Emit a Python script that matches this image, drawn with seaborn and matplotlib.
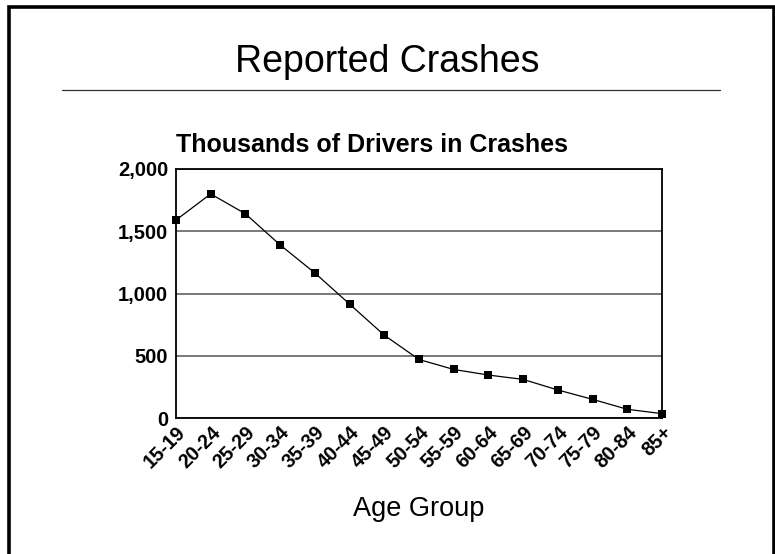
import pandas as pd
import numpy as np

from matplotlib import pyplot as plt
from matplotlib.patches import Rectangle
from matplotlib.lines import Line2D
from matplotlib.ticker import StrMethodFormatter
import seaborn as sns

age_groups = ['15-19', '20-24', '25-29', '30-34', '35-39', '40-44', '45-49',
              '50-54', '55-59', '60-64', '65-69', '70-74', '75-79', '80-84', '85+']
drivers_thousands = [1590, 1800, 1640, 1390, 1165, 915, 665,
                     470, 390, 345, 310, 225, 150, 70, 35]
y_ticks = [0, 500, 1000, 1500, 2000]

crashes = pd.DataFrame({'age_group': age_groups, 'drivers': drivers_thousands})

sns.set_theme(style='white')
plt.rcParams['font.family'] = ['Liberation Sans', 'DejaVu Sans']

fig = plt.figure(figsize=(7.75, 5.54), dpi=100)
ax = fig.add_axes([176/775, 1 - 418/554, 486/775, 249/554])

sns.lineplot(data=crashes, x='age_group', y='drivers', ax=ax, color='black',
             linewidth=0.9, marker='s', markersize=5.2, markeredgewidth=0,
             markerfacecolor='black', clip_on=False, zorder=5, sort=False)

ax.set_xlim(0, len(age_groups) - 1)
ax.set_ylim(0, 2000)
ax.set_yticks(y_ticks)
ax.yaxis.set_major_formatter(StrMethodFormatter('{x:,.0f}'))
ax.yaxis.grid(True, color='#555555', linewidth=1.1)
ax.xaxis.grid(False)
ax.set_axisbelow(True)

for side in ['left', 'right', 'top', 'bottom']:
    ax.spines[side].set_color('black')
    ax.spines[side].set_linewidth(1.3)

ax.tick_params(axis='both', length=0, labelcolor='black')
ax.tick_params(axis='y', pad=5.5, labelsize=14.5)
ax.tick_params(axis='x', pad=3.5, labelsize=14.2)
for lbl in ax.get_yticklabels():
    lbl.set_fontweight('bold')
for lbl in ax.get_xticklabels():
    lbl.set_fontweight('bold')
    lbl.set_rotation(45)
    lbl.set_ha('right')
    lbl.set_va('top')
    lbl.set_rotation_mode('anchor')

ax.set_ylabel('')
ax.set_xlabel('Age Group', fontsize=19.5, color='black')
ax.xaxis.set_label_coords(0.5, -0.312)

ax.set_title('Thousands of Drivers in Crashes', loc='left', fontsize=18,
             fontweight='bold', color='black', pad=12)

fig.text(0.5, 1 - 72/554, 'Reported Crashes', ha='center', va='baseline',
         fontsize=27, color='black')
fig.add_artist(Line2D([62/775, 720/775], [1 - 90/554, 1 - 90/554],
                      color='#333333', linewidth=0.9))
fig.add_artist(Rectangle((9/775, -0.1), (773.5 - 9)/775, 1.1 + (554 - 7.5)/554 - 1,
                         fill=False, edgecolor='black', linewidth=2.6,
                         clip_on=False))

fig.savefig('out.png', dpi=100)
